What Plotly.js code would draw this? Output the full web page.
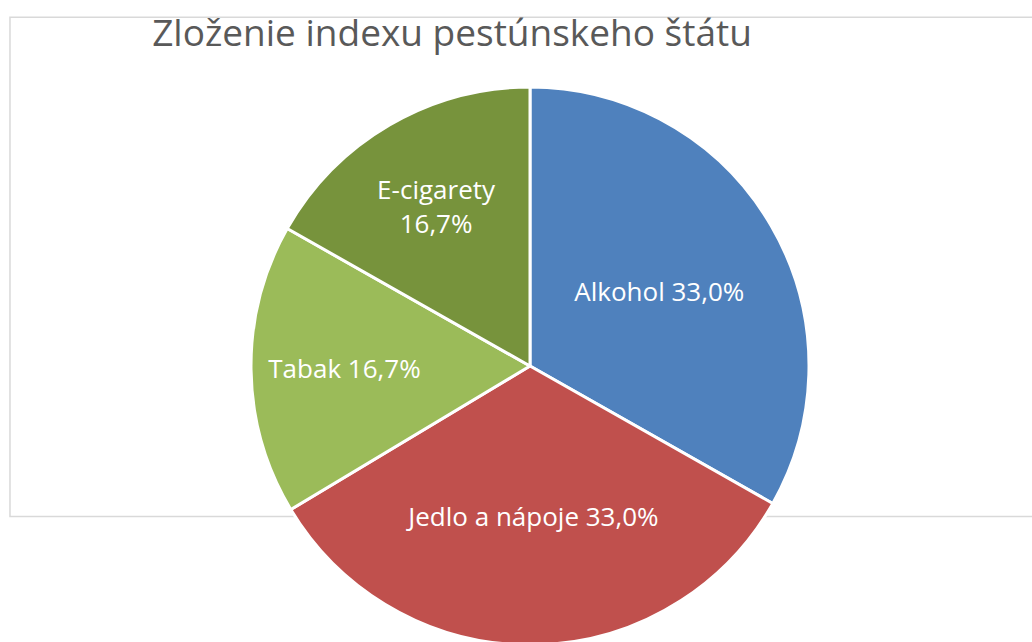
<!DOCTYPE html>
<html>
<head>
<meta charset="utf-8">
<script src="https://cdn.plot.ly/plotly-3.0.1.min.js"></script>
<style>
  html, body { margin: 0; padding: 0; overflow: hidden; background: #ffffff; }
  #chart { width: 1032px; height: 660px; }
</style>
</head>
<body>
<div id="chart"></div>
<script>
const categories = ["Alkohol", "Jedlo a nápoje", "Tabak", "E-cigarety"];
const values = [33.0, 33.0, 16.7, 16.7];
const colors = ["#4F81BD", "#C0504D", "#9BBB59", "#77933C"];
const titleText = "Zloženie indexu pestúnskeho štátu";

const templates = [
  "%{label} %{value:.1f}%",
  "%{label} %{value:.1f}%",
  "%{label} %{value:.1f}%",
  "%{label}<br>%{value:.1f}%"
];

const data = [{
  type: "pie",
  labels: categories,
  values: values,
  sort: false,
  direction: "clockwise",
  rotation: 0,
  marker: { colors: colors, line: { color: "#ffffff", width: 3 } },
  texttemplate: templates,
  textposition: "inside",
  insidetextorientation: "horizontal",
  insidetextfont: { family: "Open Sans, sans-serif", size: 26, color: "#ffffff" },
  hoverinfo: "label+value",
  showlegend: false
}];

const layout = {
  width: 1032,
  height: 660,
  margin: { l: 250, r: 222, t: 87, b: 15 },
  separators: ", ",
  paper_bgcolor: "#ffffff",
  title: {
    text: titleText,
    font: { family: "Open Sans, sans-serif", size: 37, color: "#595959" },
    xref: "container", x: 0.438, xanchor: "center",
    yref: "container", y: 1 - 33 / 660, yanchor: "middle"
  },
  shapes: [{
    type: "rect", xref: "paper", yref: "paper", layer: "below",
    x0: -0.4286, x1: 1.45, y0: 0.2304, y1: 1.125,
    line: { color: "#d9d9d9", width: 1.5 }, fillcolor: "rgba(0,0,0,0)"
  }],
  showlegend: false
};

Plotly.newPlot("chart", data, layout, { displayModeBar: false, staticPlot: true });
</script>
</body>
</html>
